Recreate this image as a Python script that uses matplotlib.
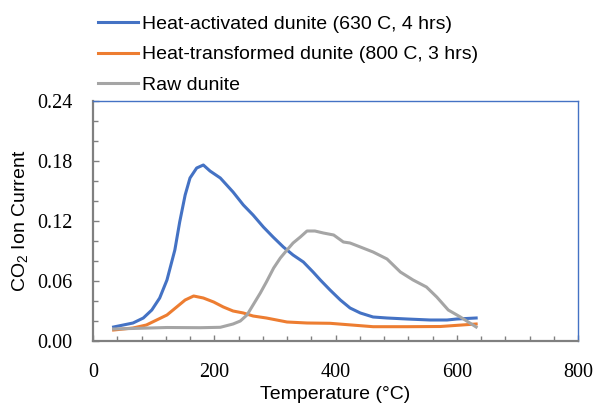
import matplotlib
matplotlib.use("Agg")
import matplotlib.pyplot as plt
from matplotlib.ticker import MultipleLocator, FormatStrFormatter

plt.rcParams['mathtext.fontset'] = 'custom'
plt.rcParams['mathtext.rm'] = 'Liberation Sans'
plt.rcParams['mathtext.default'] = 'regular'

# temperature (C) and CO2 ion current for each sample
t_act = [34, 66, 83, 97, 110, 122, 135, 143, 152, 160, 171, 182, 193, 210, 231, 248, 264, 281,
         297, 314, 330, 347, 363, 375, 391, 408, 424, 441, 462, 485, 518, 556, 584, 600, 632]
v_act = [0.014, 0.018, 0.023, 0.031, 0.043, 0.061, 0.091, 0.119, 0.146, 0.163, 0.173, 0.176,
         0.170, 0.163, 0.149, 0.136, 0.126, 0.114, 0.104, 0.094, 0.086, 0.079, 0.069, 0.061,
         0.051, 0.041, 0.033, 0.028, 0.024, 0.023, 0.022, 0.021, 0.021, 0.022, 0.023]

t_trans = [34, 66, 88, 105, 122, 138, 152, 166, 182, 199, 215, 231, 248, 264, 286, 320, 353,
           391, 462, 518, 573, 632]
v_trans = [0.011, 0.013, 0.016, 0.021, 0.026, 0.034, 0.041, 0.045, 0.043, 0.039, 0.034, 0.030,
           0.028, 0.025, 0.023, 0.019, 0.018, 0.0177, 0.0143, 0.0143, 0.0145, 0.017]

t_raw = [34, 122, 177, 210, 231, 243, 254, 264, 276, 286, 298, 309, 320, 330, 342, 353, 366,
         380, 397, 413, 424, 441, 462, 485, 507, 528, 550, 567, 586, 606, 632]
v_raw = [0.012, 0.0135, 0.0133, 0.0137, 0.017, 0.020, 0.026, 0.036, 0.048, 0.059, 0.073, 0.083,
         0.091, 0.098, 0.104, 0.110, 0.110, 0.108, 0.106, 0.099, 0.098, 0.094, 0.089, 0.082,
         0.069, 0.061, 0.054, 0.044, 0.031, 0.024, 0.014]

labels = ['Heat-activated dunite (630 C, 4 hrs)',
          'Heat-transformed dunite (800 C, 3 hrs)',
          'Raw dunite']
colors = ['#4472C4', '#ED7D31', '#A5A5A5']

fig = plt.figure(figsize=(5.95, 4.05), dpi=100)
ax = fig.add_axes([93/595, 1-341/405, 485/595, 240/405])

for t, v, lab, c in zip([t_act, t_trans, t_raw], [v_act, v_trans, v_raw], labels, colors):
    ax.plot(t, v, color=c, lw=2.2, label=lab, solid_joinstyle='round')

ax.set_xlim(0, 800)
ax.set_ylim(0, 0.24)
ax.xaxis.set_major_locator(MultipleLocator(200))
ax.xaxis.set_minor_locator(MultipleLocator(40))
ax.yaxis.set_major_locator(MultipleLocator(0.06))
ax.yaxis.set_minor_locator(MultipleLocator(0.02))
ax.yaxis.set_major_formatter(FormatStrFormatter('%.2f'))

for side in ['left', 'bottom']:
    ax.spines[side].set_color('#808080')
    ax.spines[side].set_linewidth(1.6)
for side in ['top', 'right']:
    ax.spines[side].set_color('#4472C4')
    ax.spines[side].set_linewidth(1.0)

ax.tick_params(which='both', direction='in', color='#808080', width=1.0)
ax.tick_params(which='major', length=4)
ax.tick_params(which='minor', length=3.5)
ax.tick_params(axis='x', which='major', pad=16)
ax.tick_params(axis='y', which='major', pad=15)
for lab in ax.get_xticklabels() + ax.get_yticklabels():
    lab.set_fontfamily('Liberation Serif')
    lab.set_fontsize(14.5)

ax.set_xlabel('Temperature (°C)', family='Liberation Sans', fontsize=14, labelpad=3)
ax.set_ylabel('CO$_2$ Ion Current', family='Liberation Sans', fontsize=14, labelpad=5)

ax.legend(loc='upper left', bbox_to_anchor=(98/595, 1 - 15/405), bbox_transform=fig.transFigure,
          frameon=False, prop={'family': 'Liberation Sans', 'size': 14},
          handlelength=2.05, handletextpad=0.2, labelspacing=0.68,
          borderaxespad=0, borderpad=0)

fig.savefig('out.png', dpi=100)
